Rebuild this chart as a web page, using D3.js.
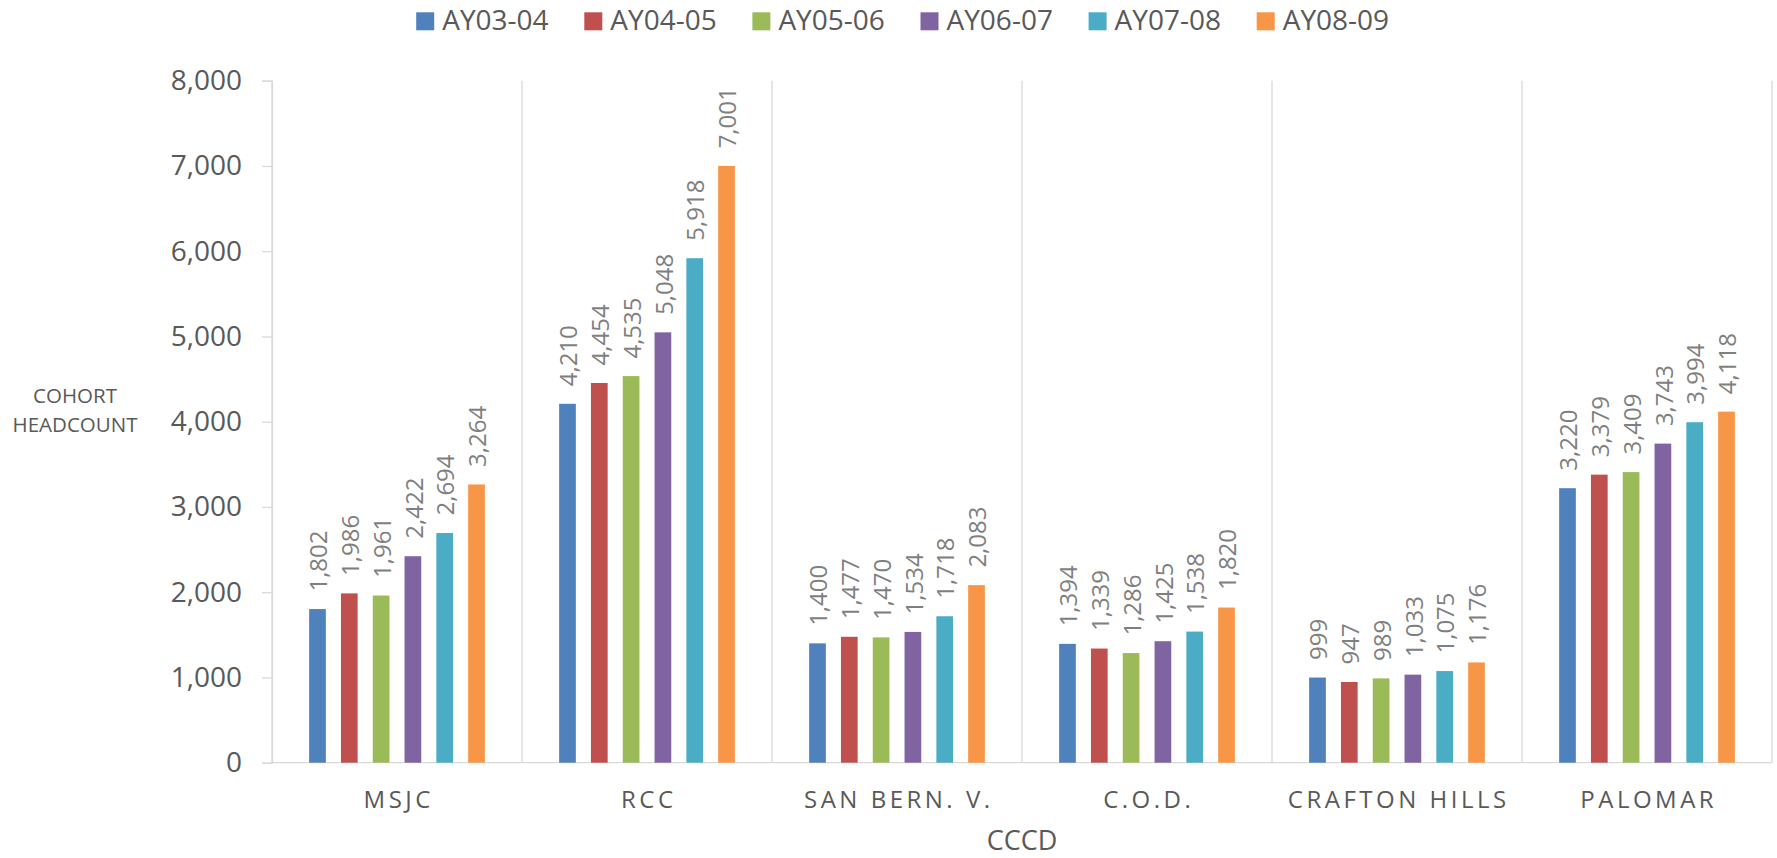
<!DOCTYPE html>
<html>
<head>
<meta charset="utf-8">
<script src="https://cdn.jsdelivr.net/npm/d3@7"></script>
<style>
  html, body { margin: 0; padding: 0; background: #ffffff; }
  svg { display: block; font-family: "Open Sans", sans-serif; }
</style>
</head>
<body>
<svg id="chart" width="1777" height="858"></svg>
<script>
const categories = ["MSJC", "RCC", "SAN BERN. V.", "C.O.D.", "CRAFTON HILLS", "PALOMAR"];
const seriesNames = ["AY03-04", "AY04-05", "AY05-06", "AY06-07", "AY07-08", "AY08-09"];
const seriesColors = ["#4f81bd", "#c0504d", "#9bbb59", "#8064a2", "#4bacc6", "#f79646"];
const AY03_04 = [1802, 4210, 1400, 1394, 999, 3220];
const AY04_05 = [1986, 4454, 1477, 1339, 947, 3379];
const AY05_06 = [1961, 4535, 1470, 1286, 989, 3409];
const AY06_07 = [2422, 5048, 1534, 1425, 1033, 3743];
const AY07_08 = [2694, 5918, 1718, 1538, 1075, 3994];
const AY08_09 = [3264, 7001, 2083, 1820, 1176, 4118];
const yTicks = [0, 1000, 2000, 3000, 4000, 5000, 6000, 7000, 8000];
const yTitle = ["COHORT", "HEADCOUNT"];
const xTitle = "CCCD";

const seriesValues = [AY03_04, AY04_05, AY05_06, AY06_07, AY07_08, AY08_09];

const svg = d3.select("#chart");
const pLeft = 272, pRight = 1772, pTop = 80.7, pBottom = 762.7;
const grid = "#d9d9d9";
const textCol = "#595959";

const x0 = d3.scaleBand().domain(categories).range([pLeft, pRight]).paddingInner(0).paddingOuter(0);
const x1 = d3.scaleBand().domain(seriesNames).range([0, x0.bandwidth()]).paddingInner(0.475).paddingOuter(1.168);
const y = d3.scaleLinear().domain([0, 8000]).range([pBottom, pTop]);

// category separators
const seps = d3.range(categories.length + 1).map(i => pLeft + i * x0.step());
svg.append("g").selectAll("line").data(seps).join("line")
  .attr("x1", d => d).attr("x2", d => d)
  .attr("y1", pTop).attr("y2", pBottom)
  .attr("stroke", grid).attr("stroke-width", 1.3);

// y axis
const yAxis = d3.axisLeft(y).tickValues(yTicks).tickSize(10).tickPadding(20)
  .tickFormat(d3.format(","));
const gy = svg.append("g").attr("transform", `translate(${pLeft},0)`).call(yAxis);
gy.select(".domain").attr("stroke", grid).attr("stroke-width", 1.3);
gy.selectAll(".tick line").attr("stroke", grid).attr("stroke-width", 1.3);
gy.selectAll(".tick text").attr("fill", textCol).style("font-size", "28px")
  .style("font-family", "'Open Sans', sans-serif");

// x baseline
svg.append("line").attr("x1", pLeft).attr("x2", pRight).attr("y1", pBottom).attr("y2", pBottom)
  .attr("stroke", grid).attr("stroke-width", 1.3);

// bars
const data = [];
categories.forEach((c, ci) => {
  seriesNames.forEach((s, si) => {
    data.push({ cat: c, ser: s, value: seriesValues[si][ci], color: seriesColors[si] });
  });
});

const gb = svg.append("g");
gb.selectAll("rect").data(data).join("rect")
  .attr("x", d => x0(d.cat) + x1(d.ser))
  .attr("width", x1.bandwidth())
  .attr("y", d => y(d.value))
  .attr("height", d => y(0) - y(d.value))
  .attr("fill", d => d.color);

// data labels
const fmt = d3.format(",");
gb.selectAll("text").data(data).join("text")
  .attr("transform", d => `translate(${x0(d.cat) + x1(d.ser) + x1.bandwidth() / 2 + 1},${y(d.value) - 17.5}) rotate(-90)`)
  .attr("dy", "0.36em")
  .attr("text-anchor", "start")
  .attr("fill", "#7f7f7f")
  .style("font-size", "24px")
  .text(d => fmt(d.value));

// category labels
svg.append("g").selectAll("text").data(categories).join("text")
  .attr("x", d => x0(d) + x0.bandwidth() / 2 + 1.75)
  .attr("y", 808.3)
  .attr("text-anchor", "middle")
  .attr("fill", textCol)
  .style("font-size", "24px")
  .style("letter-spacing", "3.5px")
  .text(d => d);

// x title
svg.append("text").attr("x", (pLeft + pRight) / 2).attr("y", 850)
  .attr("text-anchor", "middle").attr("fill", textCol)
  .style("font-size", "27px").text(xTitle);

// y title
svg.append("g").selectAll("text").data(yTitle).join("text")
  .attr("x", 75).attr("y", (d, i) => 403.3 + i * 29)
  .attr("text-anchor", "middle").attr("fill", textCol)
  .style("font-size", "20.5px").text(d => d);

// legend
const legX = d3.scaleBand().domain(seriesNames).range([416.2, 416.2 + 168.1 * 6]);
const lg = svg.append("g").selectAll("g").data(seriesNames).join("g")
  .attr("transform", d => `translate(${legX(d)},0)`);
lg.append("rect").attr("x", 0).attr("y", 12.3).attr("width", 18).attr("height", 18)
  .attr("fill", (d, i) => seriesColors[i]);
lg.append("text").attr("x", 26).attr("y", 30).attr("fill", textCol)
  .style("font-size", "28px").text(d => d);
</script>
</body>
</html>
